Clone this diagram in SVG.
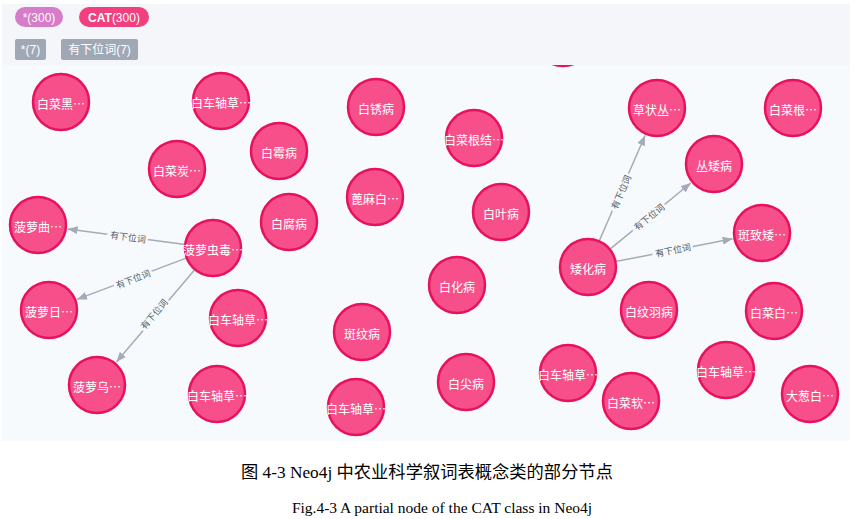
<svg xmlns="http://www.w3.org/2000/svg" width="859" height="519" viewBox="0 0 859 519">
<defs>
<style>
.node circle{fill:#f64f8a;stroke:#e8115c;stroke-width:2.5}
.node text{fill:#ffffff;font-family:"Noto Sans CJK SC","Noto Sans",sans-serif;font-size:12px;text-anchor:middle;dominant-baseline:central}
.edge line{stroke:#a5abb6;stroke-width:1.5;marker-end:url(#arr)}
.edge text{fill:#555a63;font-family:"Noto Sans CJK SC","Noto Sans",sans-serif;font-size:9px;text-anchor:middle;dominant-baseline:central;stroke:#f7fafd;stroke-width:5;paint-order:stroke}
.pill{font-family:"Liberation Sans","Noto Sans CJK SC",sans-serif;font-size:12px;fill:#ffffff;text-anchor:middle;dominant-baseline:central}
.cap{font-family:"Liberation Serif","Noto Sans CJK SC",serif;fill:#000000;text-anchor:middle}
</style>
<marker id="arr" markerUnits="userSpaceOnUse" markerWidth="10" markerHeight="8" refX="10" refY="4" orient="auto">
<path d="M0,0 L10,4 L0,8 z" fill="#a5abb6"/>
</marker>
</defs>
<rect x="0" y="0" width="859" height="519" fill="#ffffff"/>
<rect x="2" y="4" width="848" height="437" fill="#f7fafd"/>

<g id="edges">
<g class="edge"><line x1="185.2" y1="244.4" x2="67.7" y2="228.9"/><text x="128" y="237" transform="rotate(7.5 128 237)">有下位词</text></g>
<g class="edge"><line x1="186.8" y1="257.9" x2="77" y2="299.4"/><text x="133" y="279" transform="rotate(-20.7 133 279)">有下位词</text></g>
<g class="edge"><line x1="194.9" y1="269.4" x2="116.4" y2="362.1"/><text x="154" y="314" transform="rotate(-49.7 154 314)">有下位词</text></g>
<g class="edge"><line x1="599.1" y1="241.3" x2="645.1" y2="135.5"/><text x="621" y="192" transform="rotate(-66.5 621 192)">有下位词</text></g>
<g class="edge"><line x1="609.7" y1="249.3" x2="690.8" y2="183"/><text x="649" y="217" transform="rotate(-39.3 649 217)">有下位词</text></g>
<g class="edge"><line x1="615.5" y1="261.6" x2="732.6" y2="238.8"/><text x="673" y="250" transform="rotate(-11.1 673 250)">有下位词</text></g>
</g>

<g id="n0" class="node"><circle cx="563" cy="38" r="28"/></g>
<g id="n1" class="node"><circle cx="61" cy="102" r="28"/><text x="61" y="103">白菜黑…</text></g>
<g id="n2" class="node"><circle cx="221" cy="101" r="28"/><text x="221" y="102">白车轴草…</text></g>
<g id="n3" class="node"><circle cx="279" cy="151" r="28"/><text x="279" y="152">白霉病</text></g>
<g id="n4" class="node"><circle cx="177" cy="169" r="28"/><text x="177" y="170">白菜炭…</text></g>
<g id="n5" class="node"><circle cx="376" cy="107" r="28"/><text x="376" y="108">白锈病</text></g>
<g id="n6" class="node"><circle cx="474" cy="138" r="28"/><text x="474" y="139">白菜根结…</text></g>
<g id="n7" class="node"><circle cx="375" cy="197" r="28"/><text x="375" y="198">蓖麻白…</text></g>
<g id="n8" class="node"><circle cx="501" cy="212" r="28"/><text x="501" y="213">白叶病</text></g>
<g id="n9" class="node"><circle cx="289" cy="222" r="28"/><text x="289" y="223">白腐病</text></g>
<g id="n10" class="node"><circle cx="38" cy="225" r="28"/><text x="38" y="226">菠萝曲…</text></g>
<g id="n11" class="node"><circle cx="213" cy="248" r="28"/><text x="213" y="249">菠萝虫毒…</text></g>
<g id="n12" class="node"><circle cx="49" cy="310" r="28"/><text x="49" y="311">菠萝日…</text></g>
<g id="n13" class="node"><circle cx="238" cy="318" r="28"/><text x="238" y="319">白车轴草…</text></g>
<g id="n14" class="node"><circle cx="362" cy="332" r="28"/><text x="362" y="333">斑纹病</text></g>
<g id="n15" class="node"><circle cx="97" cy="385" r="28"/><text x="97" y="386">菠萝乌…</text></g>
<g id="n16" class="node"><circle cx="217" cy="394" r="28"/><text x="217" y="395">白车轴草…</text></g>
<g id="n17" class="node"><circle cx="356" cy="407" r="28"/><text x="356" y="408">白车轴草…</text></g>
<g id="n18" class="node"><circle cx="457" cy="285" r="28"/><text x="457" y="286">白化病</text></g>
<g id="n19" class="node"><circle cx="466" cy="382" r="28"/><text x="466" y="383">白尖病</text></g>
<g id="n20" class="node"><circle cx="568" cy="373" r="28"/><text x="568" y="374">白车轴草…</text></g>
<g id="n21" class="node"><circle cx="631" cy="401" r="28"/><text x="631" y="402">白菜软…</text></g>
<g id="n22" class="node"><circle cx="649" cy="310" r="28"/><text x="649" y="311">白纹羽病</text></g>
<g id="n23" class="node"><circle cx="774" cy="311" r="28"/><text x="774" y="312">白菜白…</text></g>
<g id="n24" class="node"><circle cx="726" cy="370" r="28"/><text x="726" y="371">白车轴草…</text></g>
<g id="n25" class="node"><circle cx="810" cy="394" r="28"/><text x="810" y="395">大葱白…</text></g>
<g id="n26" class="node"><circle cx="588" cy="267" r="28"/><text x="588" y="268">矮化病</text></g>
<g id="n27" class="node"><circle cx="657" cy="108" r="28"/><text x="657" y="109">草状丛…</text></g>
<g id="n28" class="node"><circle cx="714" cy="164" r="28"/><text x="714" y="165">丛矮病</text></g>
<g id="n29" class="node"><circle cx="762" cy="233" r="28"/><text x="762" y="234">斑致矮…</text></g>
<g id="n30" class="node"><circle cx="793" cy="108" r="28"/><text x="793" y="109">白菜根…</text></g>

<g id="legend">
<rect x="2" y="4" width="848" height="61" fill="#f4f6fa"/>
<rect x="15" y="7" width="48" height="20" rx="10" fill="#d77cc9"/>
<text class="pill" x="39" y="17.5">*(300)</text>
<rect x="79" y="7" width="70" height="20" rx="10" fill="#f2407f"/>
<text class="pill" x="114" y="17.5"><tspan font-weight="bold">CAT</tspan>(300)</text>
<rect x="15" y="39" width="31" height="21" rx="2" fill="#a0a8b5"/>
<text class="pill" x="30.5" y="49.5">*(7)</text>
<rect x="61" y="39" width="77" height="21" rx="2" fill="#a0a8b5"/>
<text class="pill" x="99.5" y="49.5" font-family="Noto Sans CJK SC, sans-serif">有下位词(7)</text>
</g>

<g id="caption">
<text class="cap" x="427" y="478" font-size="16.5" textLength="372" lengthAdjust="spacingAndGlyphs">图 4-3 Neo4j 中农业科学叙词表概念类的部分节点</text>
<text class="cap" x="442" y="513" font-size="15.5">Fig.4-3 A partial node of the CAT class in Neo4j</text>
</g>
</svg>
